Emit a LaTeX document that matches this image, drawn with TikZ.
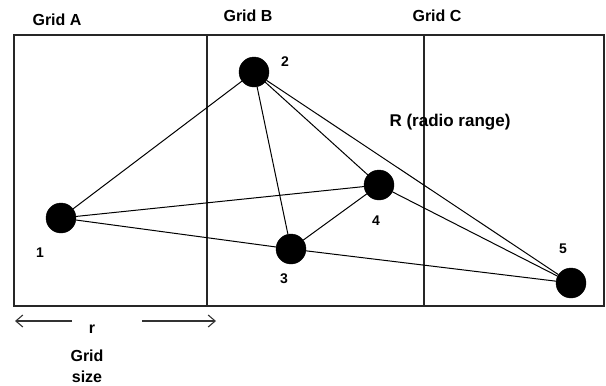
\documentclass[tikz,border=0pt]{standalone}
\usepackage{fontspec}
\setmainfont{Liberation Sans}
\usepackage{tikz}
\usetikzlibrary{arrows.meta}
\tikzset{
  mote/.style  ={circle, fill=black, draw=black, minimum size=30pt, inner sep=0pt},
  idx/.style   ={font=\fontsize{14}{14}\selectfont\bfseries, inner sep=0pt},
  head/.style  ={font=\fontsize{16}{16}\selectfont\bfseries, inner sep=0pt},
  link/.style  ={draw=black, line width=1pt},
  frame/.style ={draw=black!85, line width=1.3pt},
  span/.style  ={-{Straight Barb[length=7pt, width=12pt]}, line width=1.1pt, draw=black!80},
}
\begin{document}
\begin{tikzpicture}[x=1pt, y=-1pt]
  \useasboundingbox (0,0) rectangle (606,386);
  % grid cells
  \draw[frame] (14,35) rectangle (604,306);
  \draw[frame] (207,35) -- (207,306);
  \draw[frame] (424,35) -- (424,306);
  \node[head] (ga) at (57,20) {Grid A};
  \node[head] (gb) at (248,16) {Grid B};
  \node[head] (gc) at (437,16) {Grid C};
  % sensor nodes
  \node[mote] (n1) at (61,218) {};
  \node[mote] (n2) at (254,72) {};
  \node[mote] (n3) at (291,249) {};
  \node[mote] (n4) at (379,185) {};
  \node[mote] (n5) at (571,283) {};
  \node[idx] at (40,253) {1};
  \node[idx] at (285,62) {2};
  \node[idx] at (284,279) {3};
  \node[idx] at (376,221) {4};
  \node[idx] at (563,249) {5};
  \node[head, font=\fontsize{17}{17}\selectfont\bfseries] (rr) at (450,122) {R (radio range)};
  % links
  \draw[link] (n1) -- (n2);
  \draw[link] (n1) -- (n4);
  \draw[link] (n1) -- (n3);
  \draw[link] (n2) -- (n3);
  \draw[link] (n2) -- (n4);
  \draw[link] (n2) -- (n5);
  \draw[link] (n3) -- (n4);
  \draw[link] (n3) -- (n5);
  \draw[link] (n4) -- (n5);
  % grid size
  \node[head] (rlab) at (92,329) {r};
  \node[head] (gsz) at (87,356) {Grid};
  \node[head] (gsz2) at (87,377) {size};
  \coordinate (aL) at (15,321);
  \coordinate (aLs) at (72,321);
  \coordinate (aR) at (216,321);
  \coordinate (aRs) at (142,321);
  \draw[span] (aLs) -- (aL);
  \draw[span] (aRs) -- (aR);
\end{tikzpicture}
\end{document}
